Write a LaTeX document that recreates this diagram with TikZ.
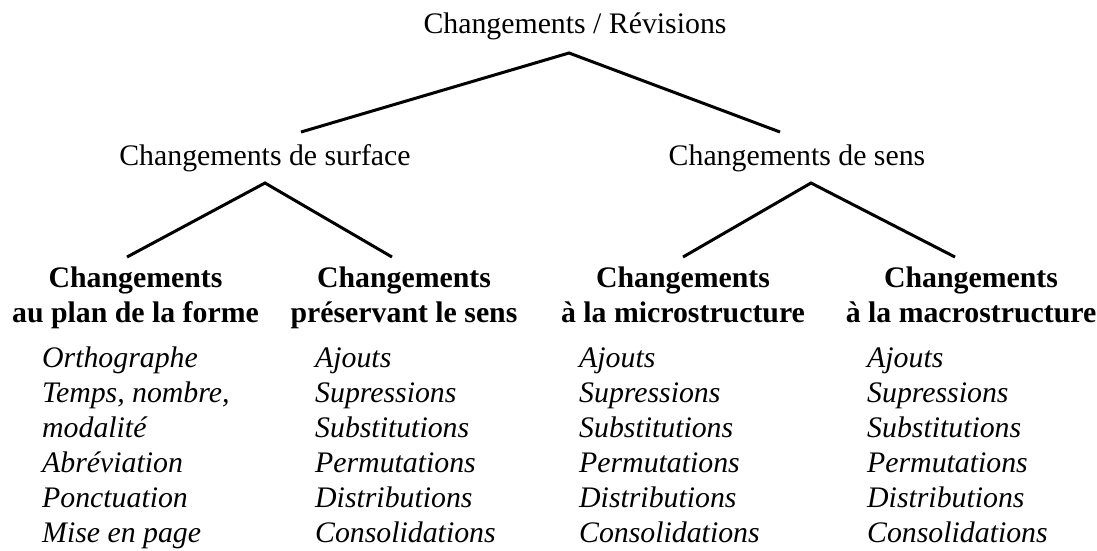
\documentclass[tikz,border=0pt]{standalone}
\usepackage{fontspec}
\setmainfont{Liberation Serif}
\begin{document}
\begin{tikzpicture}[x=1pt,y=-1pt,
  txt/.style={inner sep=0pt,anchor=base,font=\fontsize{29.8}{35}\selectfont},
  head/.style={txt,align=center,font=\fontsize{29.8}{35}\selectfont\bfseries},
  items/.style={inner sep=0pt,anchor=base west,align=left,font=\fontsize{29.8}{35}\selectfont\itshape},
  branch/.style={line width=3pt}]
\path[use as bounding box,fill=white] (0,0) rectangle (1097,550);
% texts (multi-line nodes: base = last line baseline)
\node[txt] (root) at (575,33) {Changements / Révisions};
\node[txt] (surf) at (265,165) {Changements de surface};
\node[txt] (sens) at (797,165) {Changements de sens};
\node[head] (forme) at (135.5,322) {Changements\\au plan de la forme};
\node[head] (pres) at (404,322) {Changements\\préservant le sens};
\node[head] (micro) at (683,322) {Changements\\à la microstructure};
\node[head] (macro) at (971,322) {Changements\\à la macrostructure};
\node[items] (l1) at (42,542) {Orthographe\\Temps, nombre,\\modalité\\Abréviation\\Ponctuation\\Mise en page};
\node[items] (l2) at (315,542) {Ajouts\\Supressions\\Substitutions\\Permutations\\Distributions\\Consolidations};
\node[items] (l3) at (579,542) {Ajouts\\Supressions\\Substitutions\\Permutations\\Distributions\\Consolidations};
\node[items] (l4) at (867,542) {Ajouts\\Supressions\\Substitutions\\Permutations\\Distributions\\Consolidations};
% connector points
\coordinate (rootA) at (569,53);
\coordinate (surfT) at (301,132);
\coordinate (sensT) at (780,132);
\coordinate (surfA) at (265,183);
\coordinate (formeT) at (127,257);
\coordinate (presT) at (392,257);
\coordinate (sensA) at (811,183);
\coordinate (microT) at (683,257);
\coordinate (macroT) at (955,257);
\draw[branch] (surfT) -- (rootA) -- (sensT);
\draw[branch] (formeT) -- (surfA) -- (presT);
\draw[branch] (microT) -- (sensA) -- (macroT);
\end{tikzpicture}
\end{document}
